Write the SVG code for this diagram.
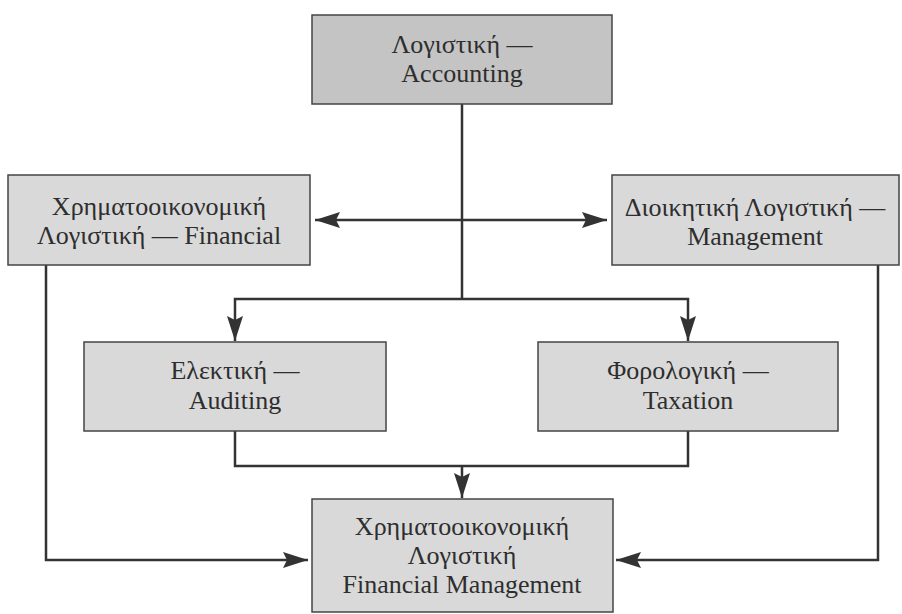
<svg xmlns="http://www.w3.org/2000/svg" width="902" height="614" viewBox="0 0 902 614">
<defs>
<marker id="ah" markerUnits="userSpaceOnUse" markerWidth="26" markerHeight="18" viewBox="0 0 26 18" refX="25" refY="9" orient="auto-start-reverse">
<path d="M0,1 L25,9 L0,17 L4,9 Z" fill="#333"/>
</marker>
<style>
.box{fill:#d9d9d9;stroke:#444;stroke-width:1.5}
.top{fill:#c4c4c4}
text{font-family:'Liberation Serif','Times New Roman','DejaVu Serif',serif;font-size:26px;fill:#2e2e2e;text-anchor:middle}
.c{fill:none;stroke:#333;stroke-width:2.5}
</style>
</defs>
<rect width="902" height="614" fill="#fff"/>
<g id="connectors">
<path class="c" d="M462 104 V299"/>
<path class="c" d="M462 299 H235 V341" marker-end="url(#ah)"/>
<path class="c" d="M462 299 H688 V341" marker-end="url(#ah)"/>
<path class="c" d="M315 220 H607" marker-start="url(#ah)" marker-end="url(#ah)"/>
<path class="c" d="M235 431 V466 H688 V431"/>
<path class="c" d="M462 466 V498" marker-end="url(#ah)"/>
<path class="c" d="M46 265 V560 H308" marker-end="url(#ah)"/>
<path class="c" d="M878 265 V560 H616" marker-end="url(#ah)"/>
</g>
<g id="accounting">
<rect class="box top" x="312" y="15" width="300" height="89"/>
<text x="462" y="53">Λογιστική —</text>
<text x="462" y="82">Accounting</text>
</g>
<g id="financial">
<rect class="box" x="8" y="175" width="302" height="90"/>
<text x="159" y="215">Χρηματοοικονομική</text>
<text x="159" y="244">Λογιστική — Financial</text>
</g>
<g id="management">
<rect class="box" x="612" y="175" width="287" height="90"/>
<text x="755" y="216">Διοικητική Λογιστική —</text>
<text x="755" y="245">Management</text>
</g>
<g id="auditing">
<rect class="box" x="84" y="342" width="302" height="89"/>
<text x="235" y="379">Ελεκτική —</text>
<text x="235" y="409">Auditing</text>
</g>
<g id="taxation">
<rect class="box" x="538" y="342" width="300" height="89"/>
<text x="688" y="379">Φορολογική —</text>
<text x="688" y="409">Taxation</text>
</g>
<g id="financial-management">
<rect class="box" x="312" y="499" width="301" height="113"/>
<text x="462" y="535">Χρηματοοικονομική</text>
<text x="462" y="564">Λογιστική</text>
<text x="462" y="593">Financial Management</text>
</g>
</svg>
